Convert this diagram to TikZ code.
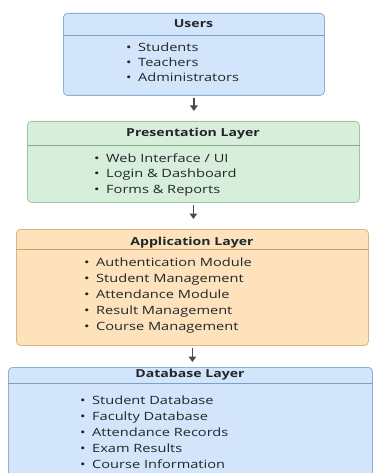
\documentclass[tikz,border=0pt]{standalone}
\usepackage{fontspec}
\setmainfont[FakeStretch=1.28]{Open Sans}
\usetikzlibrary{arrows.meta,positioning}
\definecolor{lyblue}{HTML}{D2E5FA}
\definecolor{lybluedraw}{HTML}{8DB0D6}
\definecolor{lybluerule}{HTML}{7E9EC2}
\definecolor{lygreen}{HTML}{D7EEDB}
\definecolor{lygreendraw}{HTML}{9EC7A0}
\definecolor{lygreenrule}{HTML}{85A98D}
\definecolor{lyorange}{HTML}{FDE2BC}
\definecolor{lyorangedraw}{HTML}{DDB480}
\definecolor{lyorangerule}{HTML}{C9A26E}
\definecolor{lytext}{HTML}{22262C}
\definecolor{lyarrow}{HTML}{4A4A4A}
\newcommand{\itembullet}{\makebox[12pt][l]{\textbullet}}

\begin{document}
\begin{tikzpicture}[x=1pt,y=-1pt,
  layer/.style={rectangle,rounded corners=4pt,line width=0.8pt,
                anchor=north west,inner sep=0pt},
  title/.style={anchor=base,inner sep=0pt,text=lytext,
                font=\bfseries\fontsize{11}{13}\selectfont},
  item/.style={anchor=base west,inner sep=0pt,text=lytext,
               font=\fontsize{11.4}{13}\selectfont},
  arr/.style={-{Triangle[length=5.5pt,width=7.5pt]},line width=1.7pt,lyarrow,
              shorten <=2.5pt}
]
  \useasboundingbox (0,0) rectangle (373,473);
  \clip (0,0) rectangle (373,473);

  % ---- Users ---------------------------------------------------
  \node[layer,fill=lyblue,draw=lybluedraw,minimum width=261pt,
        minimum height=82pt] (users) at (63,13) {};
  \draw[lybluerule,line width=0.8pt] (users.west |- 0,35) -- (users.east |- 0,35);
  \node[title] (userst) at (193.5,28) {Users};
  \foreach \t [count=\i] in {Students,Teachers,Administrators}
    \node[item] (user\i) at (126,52+15*\i-15) {\itembullet\t};

  % ---- Presentation layer --------------------------------------
  \node[layer,fill=lygreen,draw=lygreendraw,minimum width=332pt,
        minimum height=81pt] (pres) at (27,121) {};
  \draw[lygreenrule,line width=0.8pt] (pres.west |- 0,145) -- (pres.east |- 0,145);
  \node[title] (prest) at (193,137) {Presentation Layer};
  \foreach \t [count=\i] in {Web Interface / UI,Login \& Dashboard,Forms \& Reports}
    \node[item] (pres\i) at (94,162+15.5*\i-15.5) {\itembullet\t};

  % ---- Application layer ---------------------------------------
  \node[layer,fill=lyorange,draw=lyorangedraw,minimum width=352pt,
        minimum height=116pt] (app) at (16,229) {};
  \draw[lyorangerule,line width=0.8pt] (app.west |- 0,249) -- (app.east |- 0,249);
  \node[title] (appt) at (192,245) {Application Layer};
  \foreach \t [count=\i] in {Authentication Module,Student Management,
      Attendance Module,Result Management,Course Management}
    \node[item] (app\i) at (84,266+16*\i-16) {\itembullet\t};

  % ---- Database layer (runs past the lower edge) ----------------
  \node[layer,fill=lyblue,draw=lybluedraw,minimum width=364pt,
        minimum height=130pt] (db) at (8,367) {};
  \draw[lybluerule,line width=0.8pt] (db.west |- 0,383) -- (db.east |- 0,383);
  \node[title] (dbt) at (190,377) {Database Layer};
  \foreach \t [count=\i] in {Student Database,Faculty Database,
      Attendance Records,Exam Results,Course Information}
    \node[item] (db\i) at (80,404+16*\i-16) {\itembullet\t};

  % Arrows between layers
  \draw[arr,shorten >=10pt] (users.south) -- (users.south |- pres.north);
  \draw[arr,shorten >=10pt] (pres.south) -- (pres.south |- app.north);
  \draw[arr,shorten >=5pt] (app.south) -- (app.south |- db.north);

\end{tikzpicture}
\end{document}
